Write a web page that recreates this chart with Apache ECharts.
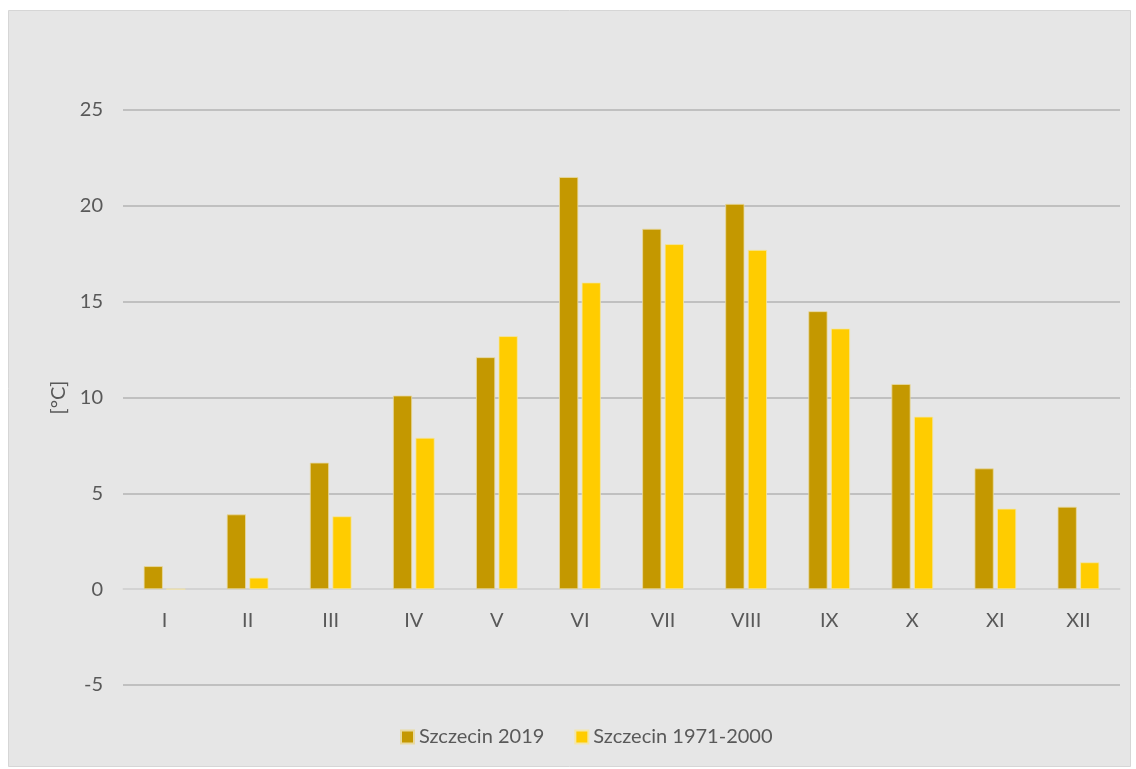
<!DOCTYPE html>
<html>
<head>
<meta charset="utf-8">
<script src="https://cdn.jsdelivr.net/npm/echarts@6/dist/echarts.min.js"></script>
<style>
html,body{margin:0;padding:0;background:#ffffff;}
#chart{width:1136px;height:769px;}
</style>
</head>
<body>
<div id="chart"></div>
<script>
const categories = ['I','II','III','IV','V','VI','VII','VIII','IX','X','XI','XII'];
const series2019 = [1.2, 3.9, 6.6, 10.1, 12.1, 21.5, 18.8, 20.1, 14.5, 10.7, 6.3, 4.3];
const series7100 = [0.0, 0.6, 3.8, 7.9, 13.2, 16.0, 18.0, 17.7, 13.6, 9.0, 4.2, 1.4];
const seriesNames = ['Szczecin 2019', 'Szczecin 1971-2000'];
const yTicks = [-5, 0, 5, 10, 15, 20, 25];

const W = 1136, H = 769;
const gridTop = 110, gridBottom = 84;
const yMin = yTicks[0], yMax = yTicks[yTicks.length-1];
const gridH = H - gridTop - gridBottom;
const zeroOffset = -gridH * (0 - yMin) / (yMax - yMin);

const chart = echarts.init(document.getElementById('chart'));
const font = 'Lato, "Open Sans", sans-serif';
const txt = '#595959';
chart.setOption({
  backgroundColor: '#ffffff',
  animation: false,
  textStyle: {fontFamily: font},
  graphic: [{
    type: 'rect', z: -10, silent: true,
    shape: {x: 8.5, y: 10.5, width: 1122, height: 756},
    style: {fill: '#e6e6e6', stroke: '#d6d6d6', lineWidth: 1}
  }],
  grid: {left: 123, right: 16, top: gridTop, bottom: gridBottom, containLabel: false},
  legend: {
    bottom: 17, left: 395,
    itemWidth: 13, itemHeight: 13, itemGap: 30,
    icon: 'rect',
    textStyle: {color: txt, fontSize: 20, fontFamily: font},
    data: seriesNames
  },
  xAxis: {
    type: 'category', data: categories,
    offset: zeroOffset,
    axisLine: {onZero: false, lineStyle: {color: '#d9d9d9', width: 1.5}},
    axisTick: {show: false},
    axisLabel: {color: txt, fontSize: 20, margin: 21, fontFamily: font}
  },
  yAxis: {
    type: 'value', min: yMin, max: yMax, interval: 5,
    name: '[°C]', nameLocation: 'middle', nameGap: 54, nameRotate: 90,
    nameTextStyle: {color: txt, fontSize: 20, fontFamily: font},
    axisLine: {show: false}, axisTick: {show: false},
    axisLabel: {color: txt, fontSize: 20, margin: 20, fontFamily: font},
    splitLine: {lineStyle: {color: '#b3b3b3', width: 1.5}}
  },
  series: [
    {name: seriesNames[0], type: 'bar', data: series2019, barWidth: '23%', barGap: '18%',
     itemStyle: {color: '#c49800', borderColor: '#e8d9a0', borderWidth: 0.8}},
    {name: seriesNames[1], type: 'bar', data: series7100, barWidth: '23%',
     itemStyle: {color: '#ffcc00', borderColor: '#f3e6a8', borderWidth: 0.8}}
  ]
});
</script>
</body>
</html>
